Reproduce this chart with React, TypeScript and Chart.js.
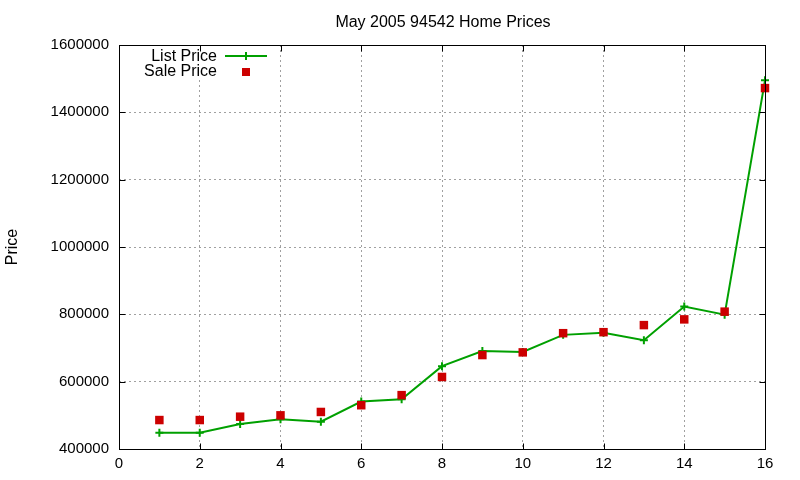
import React, { useEffect, useRef } from 'react';
import { Chart, registerables } from 'chart.js';

Chart.register(...registerables);

const days = [1, 2, 3, 4, 5, 6, 7, 8, 9, 10, 11, 12, 13, 14, 15, 16];
const listPrice = [448000, 448000, 474000, 488000, 481000, 541000, 548000, 646000, 691000, 688000, 739000, 745000, 723000, 823000, 799000, 1495000];
const salePrice = [486000, 486000, 496000, 500000, 510000, 530000, 560000, 614000, 679000, 687000, 744000, 747000, 768000, 785000, 808000, 1472000];
const xTicks = [0, 2, 4, 6, 8, 10, 12, 14, 16];
const yTicks = [400000, 600000, 800000, 1000000, 1200000, 1400000, 1600000];
const titleText = 'May 2005 94542 Home Prices';
const yTitleText = 'Price';
const seriesNames = ['List Price', 'Sale Price'];

const GREEN = '#00a000';
const RED = '#cc0000';
const FONT_FAMILY = '"Liberation Sans", Arial, sans-serif';
const FONT = '16px ' + FONT_FAMILY;
const TITLE_FONT = '16px ' + FONT_FAMILY;

const gnuplotPlugin = {
  id: 'gnuplotDecor',
  beforeDraw(chart: any) {
    const ctx = chart.ctx;
    ctx.save();
    ctx.fillStyle = '#ffffff';
    ctx.fillRect(0, 0, chart.width, chart.height);
    ctx.restore();
  },
  beforeDatasetsDraw(chart: any) {
    const ctx = chart.ctx;
    ctx.save();
    ctx.fillStyle = '#ffffff';
    ctx.fillRect(143, 46, 130, 33);
    ctx.restore();
  },
  afterDraw(chart: any) {
    const ctx = chart.ctx;
    const a = chart.chartArea;
    const xs = chart.scales.x;
    const ys = chart.scales.y;
    ctx.save();
    ctx.strokeStyle = '#000';
    ctx.lineWidth = 1;
    ctx.setLineDash([]);
    const L = Math.round(a.left) + 0.5;
    const R = Math.round(a.right) + 0.5;
    const T = Math.round(a.top) + 0.5;
    const B = Math.round(a.bottom) + 0.5;
    ctx.strokeRect(L, T, R - L, B - T);
    const tl = 6;
    ctx.beginPath();
    for (const v of xTicks) {
      const px = Math.round(xs.getPixelForValue(v)) + 0.5;
      ctx.moveTo(px, B);
      ctx.lineTo(px, B - tl);
      ctx.moveTo(px, T);
      ctx.lineTo(px, T + tl);
    }
    for (const v of yTicks) {
      const py = Math.round(ys.getPixelForValue(v)) + 0.5;
      ctx.moveTo(L, py);
      ctx.lineTo(L + tl, py);
      ctx.moveTo(R, py);
      ctx.lineTo(R - tl, py);
    }
    ctx.stroke();

    ctx.fillStyle = '#000';
    // title
    ctx.font = TITLE_FONT;
    ctx.textAlign = 'center';
    ctx.textBaseline = 'alphabetic';
    ctx.fillText(titleText, (a.left + a.right) / 2 + 1, 27);
    // y title
    ctx.font = FONT;
    ctx.save();
    ctx.translate(17, (a.top + a.bottom) / 2);
    ctx.rotate(-Math.PI / 2);
    ctx.textAlign = 'center';
    ctx.fillText(yTitleText, 0, 0);
    ctx.restore();

    // key
    ctx.textAlign = 'right';
    ctx.fillText(seriesNames[0], 217, 60.5);
    ctx.fillText(seriesNames[1], 217, 75.5);
    ctx.strokeStyle = GREEN;
    ctx.lineWidth = 2;
    ctx.beginPath();
    ctx.moveTo(225, 56);
    ctx.lineTo(267, 56);
    ctx.moveTo(246, 52);
    ctx.lineTo(246, 60);
    ctx.stroke();
    ctx.fillStyle = RED;
    ctx.fillRect(242, 68, 8, 8);
    ctx.restore();
  },
};

export default function App() {
  const ref = useRef<HTMLCanvasElement | null>(null);
  useEffect(() => {
    if (!ref.current) return;
    const tickFont = { family: FONT_FAMILY, size: 15 };
    const chart = new Chart(ref.current, {
      type: 'line',
      data: {
        datasets: [
          {
            label: seriesNames[0],
            data: days.map((d, i) => ({ x: d, y: listPrice[i] })),
            borderColor: GREEN,
            backgroundColor: GREEN,
            borderWidth: 2,
            pointStyle: 'cross',
            pointRadius: 4,
            pointBorderWidth: 2,
            pointBorderColor: GREEN,
            fill: false,
            tension: 0,
            clip: false as any,
            order: 2,
          },
          {
            label: seriesNames[1],
            data: days.map((d, i) => ({ x: d, y: salePrice[i] })),
            showLine: false,
            borderColor: RED,
            backgroundColor: RED,
            pointStyle: 'rect',
            pointRadius: 6,
            pointBorderWidth: 0,
            pointBackgroundColor: RED,
            clip: false as any,
            order: 1,
          },
        ],
      },
      options: {
        responsive: false,
        animation: false,
        events: [],
        layout: { padding: { left: 0, right: 35, top: 45, bottom: 0 } },
        plugins: {
          legend: { display: false },
          title: { display: false },
          tooltip: { enabled: false },
        },
        scales: {
          x: {
            type: 'linear',
            min: 0,
            max: 16,
            afterBuildTicks: (s: any) => {
              s.ticks = xTicks.map((v) => ({ value: v }));
            },
            afterFit: (s: any) => {
              s.height = 31;
            },
            grid: { color: '#a0a0a0', lineWidth: 1, drawTicks: false },
            border: { display: false, dash: [2, 3] },
            ticks: {
              font: tickFont,
              color: '#000',
              padding: 6,
              maxRotation: 0,
              autoSkip: false,
              callback: (v: any) => String(v),
            },
          },
          y: {
            type: 'linear',
            min: 400000,
            max: 1600000,
            afterBuildTicks: (s: any) => {
              s.ticks = yTicks.map((v) => ({ value: v }));
            },
            afterFit: (s: any) => {
              s.width = 119;
            },
            grid: { color: '#a0a0a0', lineWidth: 1, drawTicks: false },
            border: { display: false, dash: [2, 3] },
            ticks: {
              font: tickFont,
              color: '#000',
              padding: 10,
              autoSkip: false,
              callback: (v: any) => String(v),
            },
          },
        },
      } as any,
      plugins: [gnuplotPlugin],
    });
    return () => chart.destroy();
  }, []);
  return (
    <div style={{ position: 'absolute', left: 0, top: 0, width: 800, height: 480, background: '#fff' }}>
      <canvas ref={ref} width={800} height={480} style={{ display: 'block', width: 800, height: 480 }} />
    </div>
  );
}
